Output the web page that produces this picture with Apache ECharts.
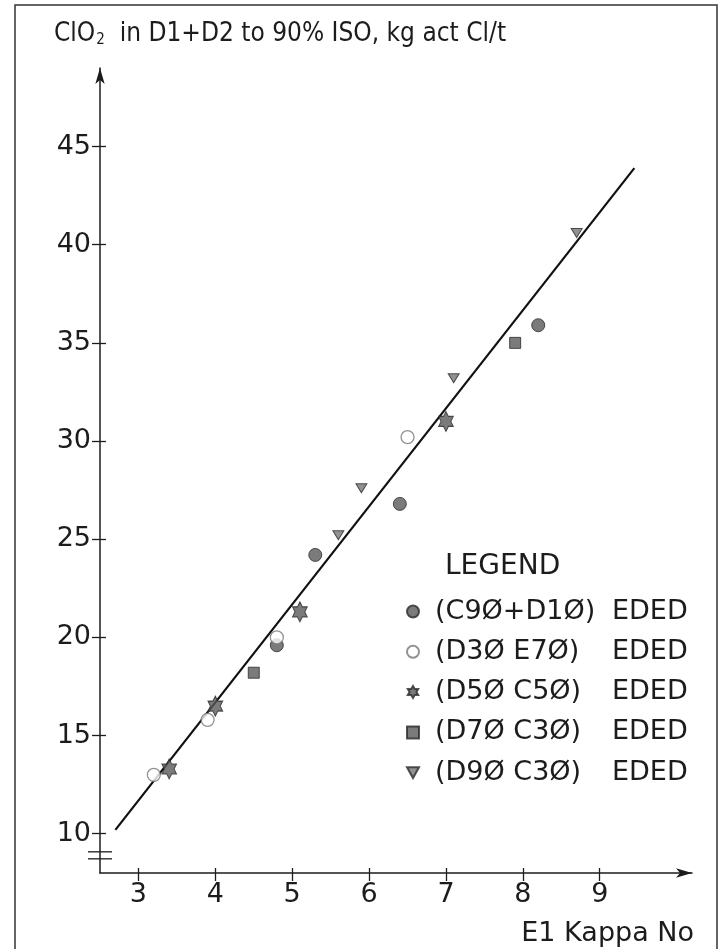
<!DOCTYPE html>
<html>
<head>
<meta charset="utf-8">
<script src="https://cdn.jsdelivr.net/npm/echarts@6/dist/echarts.min.js"></script>
<style>
  html, body { margin: 0; padding: 0; background: #fff; }
  #chart { width: 720px; height: 949px; }
</style>
</head>
<body>
<div id="chart"></div>
<script>
// ClO2 demand vs E1 kappa
const xTicks = [3, 4, 5, 6, 7, 8, 9]
const yTicks = [10, 15, 20, 25, 30, 35, 40, 45]

const groupNames = ['(C9Ø+D1Ø)', '(D3Ø E7Ø)', '(D5Ø C5Ø)', '(D7Ø C3Ø)', '(D9Ø C3Ø)']
const groupSuffix = 'EDED'

const c90Kappa = [4.8, 5.3, 6.4, 8.2]
const c90ClO2 = [19.6, 24.2, 26.8, 35.9]
const d30Kappa = [3.2, 3.9, 4.8, 6.5]
const d30ClO2 = [13.0, 15.8, 20.0, 30.2]
const d50Kappa = [3.4, 4.0, 5.1, 7.0]
const d50ClO2 = [13.3, 16.5, 21.3, 31.0]
const d70Kappa = [4.5, 7.9]
const d70ClO2 = [18.2, 35.0]
const d90Kappa = [5.6, 5.9, 7.1, 8.7]
const d90ClO2 = [25.2, 27.6, 33.2, 40.6]

// drawn regression line
const fitKappa = [2.7, 9.45]
const fitClO2 = [10.2, 43.9]

const FONT = "'DejaVu Sans', 'Liberation Sans', sans-serif"
const FONT_NARROW = "'DejaVu Sans Condensed', 'DejaVu Sans', sans-serif"
const INK = '#1c1c1c'
const MARK = '#5a5a5a'
const STAR = 'path://M0,-10L2.89,-5L8.66,-5L5.77,0L8.66,5L2.89,5L0,10L-2.89,5L-8.66,5L-5.77,0L-8.66,-5L-2.89,-5Z'
const TRI_DOWN = 'path://M0,0L10,0L5,9Z'
const groupIcons = ['circle', 'circle', STAR, 'rect', TRI_DOWN]

function zip(xs, ys) {
  return xs.map((x, i) => [x, ys[i]])
}

const chart = echarts.init(document.getElementById('chart'))

const scatterBase = { type: 'scatter', z: 3 }

const option = {
  backgroundColor: '#fff',
  animation: false,
  textStyle: { fontFamily: FONT },
  title: [
    {
      text: '{a|ClO}{s|2}{a|  in D1+D2 to 90% ISO, kg act Cl/t}',
      left: 49, top: 16,
      textStyle: {
        rich: {
          a: { fontSize: 26, fontWeight: 'normal', fontFamily: FONT_NARROW, color: INK },
          s: { fontSize: 15, fontWeight: 'normal', fontFamily: FONT_NARROW, color: INK, padding: [12, 0, 0, 1] }
        }
      }
    },
    {
      text: 'LEGEND',
      left: 440, top: 548,
      textStyle: { fontSize: 28, fontWeight: 'normal', fontFamily: FONT, color: INK }
    },
    {
      text: 'E1 Kappa No',
      right: 21, top: 915,
      textStyle: { fontSize: 27, fontWeight: 'normal', fontFamily: FONT, color: INK }
    }
  ],
  grid: { left: 100, right: 28, top: 68, bottom: 76 },
  xAxis: [
    {
      type: 'value', min: 2.5, max: 10.2,
      axisLine: { onZero: false, symbol: ['none', 'arrow'], symbolSize: [7, 16], lineStyle: { color: INK, width: 1.5 } },
      axisTick: { customValues: xTicks, length: 8, lineStyle: { color: INK, width: 1.3 } },
      axisLabel: { customValues: xTicks, margin: 8, fontSize: 27, color: INK, fontFamily: FONT },
      splitLine: { show: false }
    },
    {
      type: 'value', min: 2.5, max: 10.2, position: 'bottom',
      axisLine: { show: false },
      axisTick: { customValues: xTicks, inside: true, length: 5, lineStyle: { color: INK, width: 1.3 } },
      axisLabel: { show: false },
      splitLine: { show: false }
    }
  ],
  yAxis: [
    {
      type: 'value', min: 8, max: 49,
      axisLine: { show: true, onZero: false, symbol: ['none', 'arrow'], symbolSize: [7, 16], lineStyle: { color: INK, width: 1.5 } },
      axisTick: { show: true, customValues: yTicks, length: 8, lineStyle: { color: INK, width: 1.3 } },
      axisLabel: { customValues: yTicks, margin: 9, fontSize: 27, color: INK, fontFamily: FONT },
      splitLine: { show: false }
    },
    {
      type: 'value', min: 8, max: 49, position: 'left',
      axisLine: { show: false },
      axisTick: { show: true, customValues: yTicks, inside: true, length: 6, lineStyle: { color: INK, width: 1.3 } },
      axisLabel: { show: false },
      splitLine: { show: false }
    }
  ],
  legend: {
    orient: 'vertical', left: 406, top: 598, padding: 0,
    itemWidth: 12, itemHeight: 12, itemGap: 13.3,
    data: groupNames.map((name, i) => ({ name, icon: groupIcons[i] })),
    selectedMode: false,
    formatter: name => `{a|${name}}{b|${groupSuffix}}`,
    textStyle: {
      rich: {
        a: { width: 177, padding: [0, 0, 0, 11], fontSize: 27, lineHeight: 28, fontFamily: FONT, color: INK },
        b: { fontSize: 27, lineHeight: 28, fontFamily: FONT, color: INK }
      }
    }
  },
  series: [
    {
      type: 'line', name: 'fit', data: zip(fitKappa, fitClO2),
      showSymbol: false, symbol: 'none', z: 2,
      lineStyle: { color: '#111', width: 2.2 }
    },
    {
      ...scatterBase, name: groupNames[0], data: zip(c90Kappa, c90ClO2),
      symbol: groupIcons[0], symbolSize: 13,
      itemStyle: { color: MARK, borderColor: '#2a2a2a', borderWidth: 1 }
    },
    {
      ...scatterBase, name: groupNames[1], data: zip(d30Kappa, d30ClO2),
      symbol: groupIcons[1], symbolSize: 13,
      itemStyle: { color: '#fff', borderColor: '#777', borderWidth: 1.3 }
    },
    {
      ...scatterBase, name: groupNames[2], data: zip(d50Kappa, d50ClO2),
      symbol: groupIcons[2], symbolSize: [17, 20], symbolKeepAspect: true,
      itemStyle: { color: MARK, borderColor: '#2a2a2a', borderWidth: 1 }
    },
    {
      ...scatterBase, name: groupNames[3], data: zip(d70Kappa, d70ClO2),
      symbol: groupIcons[3], symbolSize: 11,
      itemStyle: { color: MARK, borderColor: '#2a2a2a', borderWidth: 1 }
    },
    {
      ...scatterBase, name: groupNames[4], data: zip(d90Kappa, d90ClO2),
      symbol: groupIcons[4], symbolSize: [11, 10], symbolKeepAspect: true,
      itemStyle: { color: '#777', borderColor: '#2a2a2a', borderWidth: 1 }
    }
  ]
}

chart.setOption(option)

// frame around the figure and the axis break marks
function drawExtras() {
  const [ax, yBreak] = chart.convertToPixel({ gridIndex: 0 }, [2.5, 8.9])
  chart.setOption({
    graphic: [
      {
        type: 'rect', silent: true,
        shape: { x: 15, y: 5, width: 702, height: 960 },
        style: { fill: 'none', stroke: '#333', lineWidth: 1.5 }
      },
      {
        type: 'line', silent: true,
        shape: { x1: ax - 12, y1: yBreak - 3.5, x2: ax + 12, y2: yBreak - 3.5 },
        style: { stroke: INK, lineWidth: 1.3 }
      },
      {
        type: 'line', silent: true,
        shape: { x1: ax - 12, y1: yBreak + 3.5, x2: ax + 12, y2: yBreak + 3.5 },
        style: { stroke: INK, lineWidth: 1.3 }
      }
    ]
  })
}
drawExtras()

window.addEventListener('resize', () => chart.resize())
</script>
</body>
</html>
